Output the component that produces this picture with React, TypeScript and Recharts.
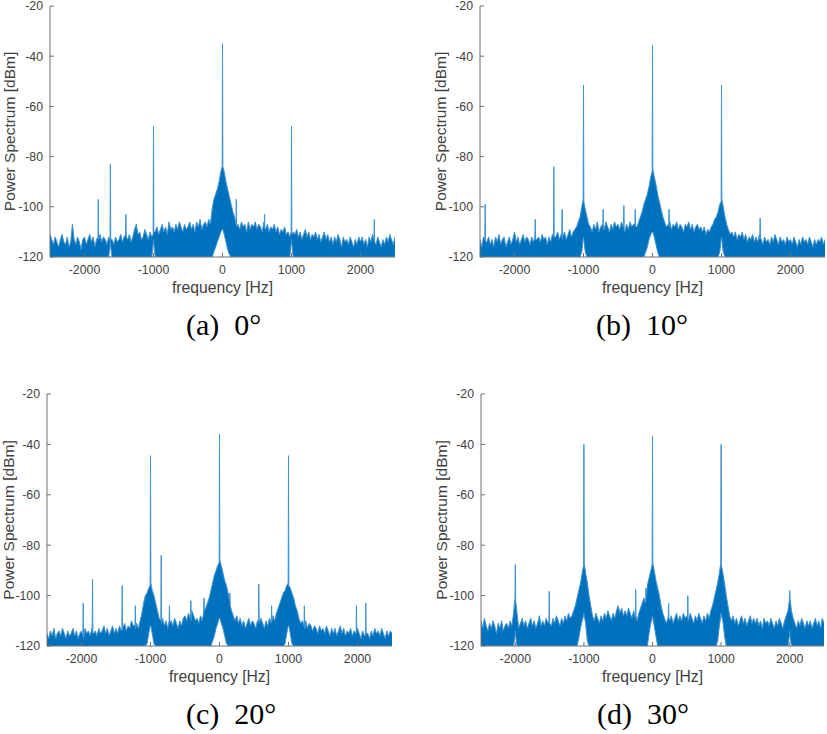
import React from "react";
import { AreaChart, Area, XAxis, YAxis } from "recharts";

const FREQ_START = -2500;
const FREQ_STEP = 25;
const FLOOR_DB = -120;

const xTicks = [-2000, -1000, 0, 1000, 2000];
const yTicks = [-120, -100, -80, -60, -40, -20];

const LINE = "#0072BD";
const EDGE = "#3f93d3";
const BOX = "#6f6f6f";
const TXT = "#404040";
const SANS = "'Liberation Sans', Arial, sans-serif";
const SERIF = "'Liberation Serif', 'Times New Roman', serif";

// noise envelope, 25 Hz grid from -2500 to 2500 (one row = 500 Hz)
// (a) 0°
const noiseA = [
  -111, -113, -115, -112, -114, -116, -113, -111, -114, -115, -112, -116, -114, -107, -113, -115, -112, -114, -117, -113,
  -112, -115, -113, -111, -114, -112, -116, -113, -115, -111, -114, -112, -113, -115, -112, -114, -113, -115, -112, -114,
  -113, -111, -114, -112, -110, -113, -111, -114, -112, -109, -107, -111, -110, -113, -112, -109, -111, -113, -110, -112,
  -112, -110, -108, -111, -109, -107, -110, -108, -111, -106, -109, -108, -110, -107, -109, -106, -108, -110, -107, -109,
  -108, -106, -109, -107, -110, -106, -108, -105, -109, -107, -106, -108, -105, -107, -101, -97, -95, -93, -90, -86,
  -85, -86, -90, -93, -96, -99, -102, -104, -108, -107, -109, -106, -108, -107, -110, -106, -109, -107, -108, -106,
  -109, -107, -108, -110, -106, -109, -107, -110, -108, -109, -107, -110, -108, -111, -109, -110, -108, -111, -110, -112,
  -112, -110, -111, -109, -112, -110, -113, -111, -109, -112, -110, -113, -111, -112, -110, -113, -111, -114, -112, -110,
  -113, -111, -114, -112, -115, -112, -114, -111, -113, -116, -112, -114, -113, -115, -112, -114, -116, -113, -115, -112,
  -114, -112, -115, -113, -116, -112, -114, -111, -113, -115, -112, -114, -116, -113, -115, -112, -114, -111, -113, -115,
  -112,
];
const peaksA: [number, number][] = [
  [-1805, -112], [-1800, -97], [-1795, -113],
  [-1630, -113], [-1625, -83], [-1620, -113],
  [-1405, -111], [-1400, -103], [-1395, -112],
  [-1005, -111], [-1000, -68], [-995, -110],
  [-5, -84], [0, -35], [5, -84],
  [195, -107], [200, -97], [205, -108],
  [605, -108], [610, -103], [615, -109],
  [995, -110], [1000, -68], [1005, -111],
  [2195, -113], [2200, -105], [2205, -114],
];
const hollowA: [number, number][] = [
  [-125, -118], [-100, -116], [-75, -114], [-50, -112], [-25, -110],
  [-5, -109], [0, -109], [5, -109], [25, -111], [50, -114], [75, -117], [100, -119],
  [-1630, -116], [-1625, -113], [-1620, -116],
  [-1005, -115], [-1000, -113], [-995, -115],
  [995, -115], [1000, -113], [1005, -115],
];

// (b) 10°
const noiseB = [
  -113, -116, -112, -111, -114, -112, -115, -113, -116, -112, -114, -111, -115, -113, -112, -116, -114, -112, -115, -113,
  -110, -114, -112, -115, -113, -111, -114, -112, -113, -115, -112, -114, -110, -113, -112, -114, -111, -113, -112, -115,
  -112, -114, -111, -113, -112, -110, -113, -111, -112, -110, -113, -111, -109, -112, -110, -109, -108, -106, -104, -100,
  -100, -101, -104, -107, -108, -110, -107, -109, -106, -110, -108, -107, -109, -106, -108, -110, -107, -109, -106, -108,
  -107, -109, -106, -108, -110, -107, -109, -106, -108, -107, -105, -108, -106, -104, -102, -99, -97, -95, -92, -88,
  -86, -88, -91, -95, -98, -101, -104, -106, -108, -107, -106, -109, -107, -108, -106, -109, -107, -108, -110, -107,
  -108, -106, -109, -107, -110, -108, -107, -109, -108, -110, -108, -111, -109, -110, -108, -107, -105, -104, -102, -99,
  -99, -100, -104, -107, -109, -111, -110, -112, -110, -113, -111, -112, -110, -113, -111, -114, -112, -113, -111, -114,
  -112, -114, -111, -113, -115, -112, -114, -113, -115, -112, -114, -111, -113, -115, -112, -114, -113, -115, -112, -114,
  -113, -115, -112, -114, -116, -113, -115, -112, -114, -113, -115, -112, -114, -116, -113, -115, -113, -114, -112, -115,
  -113,
];
const peaksB: [number, number][] = [
  [-2430, -113], [-2425, -99], [-2420, -114],
  [-1705, -112], [-1700, -105], [-1695, -113],
  [-1435, -112], [-1430, -84], [-1425, -112],
  [-1315, -112], [-1310, -101], [-1305, -113],
  [-1005, -97], [-1000, -51.5], [-995, -98],
  [-720, -108], [-715, -101], [-710, -109],
  [-420, -108], [-415, -99.5], [-410, -109],
  [-255, -107], [-250, -101], [-245, -108],
  [-5, -86], [0, -35.7], [5, -85],
  [235, -108], [240, -101], [245, -107],
  [995, -98], [1000, -51.5], [1005, -97],
  [1555, -113], [1560, -104.5], [1565, -112],
];
const hollowB: [number, number][] = [
  [-100, -118], [-75, -116], [-50, -113], [-25, -111],
  [-5, -110], [0, -110], [5, -110], [25, -112], [50, -115], [75, -118],
  [-1025, -118], [-1005, -113], [-1000, -112], [-995, -113], [-975, -118],
  [975, -118], [995, -113], [1000, -112], [1005, -113], [1025, -118],
];

// (c) 20°
const noiseC = [
  -115, -117, -114, -116, -113, -117, -115, -114, -116, -113, -115, -117, -114, -116, -115, -113, -116, -114, -117, -115,
  -114, -116, -113, -115, -114, -116, -113, -115, -114, -116, -113, -115, -114, -112, -115, -113, -116, -114, -112, -115,
  -113, -115, -112, -114, -113, -111, -114, -112, -113, -110, -112, -114, -111, -113, -110, -107, -103, -100, -99, -97,
  -95, -98, -100, -103, -106, -109, -111, -109, -112, -110, -113, -111, -110, -112, -109, -111, -113, -110, -112, -109,
  -108, -110, -107, -109, -106, -108, -110, -109, -111, -108, -110, -107, -105, -103, -101, -98, -95, -92, -90, -88,
  -87, -88, -91, -94, -96, -99, -103, -106, -108, -110, -108, -111, -109, -112, -110, -113, -111, -109, -112, -110,
  -111, -113, -110, -112, -109, -111, -113, -110, -112, -109, -111, -108, -110, -107, -105, -103, -101, -99, -98, -96,
  -95, -97, -99, -101, -104, -106, -109, -111, -110, -112, -110, -113, -111, -112, -114, -112, -113, -115, -112, -114,
  -113, -115, -112, -114, -116, -113, -115, -113, -116, -114, -112, -115, -113, -116, -114, -115, -113, -116, -114, -115,
  -113, -115, -117, -114, -116, -113, -115, -117, -114, -116, -113, -115, -114, -116, -113, -115, -117, -114, -116, -114,
  -115,
];
const peaksC: [number, number][] = [
  [-1980, -116], [-1975, -103], [-1970, -117],
  [-1845, -114], [-1840, -93.5], [-1835, -115],
  [-1415, -113], [-1410, -96], [-1405, -114],
  [-1225, -112], [-1220, -104], [-1215, -113],
  [-1005, -96], [-1000, -44.5], [-995, -95],
  [-850, -110], [-845, -84], [-840, -111],
  [-730, -110], [-725, -104], [-720, -111],
  [-420, -109], [-415, -102], [-410, -110],
  [-230, -107], [-225, -101], [-220, -106],
  [-5, -87], [0, -36], [5, -86],
  [145, -102], [150, -99], [155, -104],
  [565, -110], [570, -95.5], [575, -111],
  [750, -111], [755, -104], [760, -110],
  [995, -95], [1000, -44.5], [1005, -96],
  [1225, -112], [1230, -104], [1235, -113],
  [1980, -115], [1985, -104], [1990, -114],
  [2115, -116], [2120, -103], [2125, -115],
];
const hollowC: [number, number][] = [
  [-100, -118], [-75, -116], [-50, -113], [-25, -111],
  [-5, -109], [0, -109], [5, -109], [25, -111], [50, -113], [75, -116], [100, -119],
  [-1050, -119], [-1025, -115], [-1005, -112], [-1000, -112], [-995, -112], [-975, -115], [-950, -119],
  [950, -119], [975, -115], [995, -112], [1000, -112], [1005, -112], [1025, -115], [1050, -119],
];

// (d) 30°
const noiseD = [
  -110, -113, -109, -112, -114, -111, -113, -110, -112, -115, -111, -113, -110, -114, -112, -111, -113, -110, -112, -107,
  -100, -107, -113, -111, -109, -112, -110, -113, -111, -109, -112, -110, -113, -111, -108, -112, -110, -112, -109, -111,
  -110, -112, -109, -111, -108, -110, -112, -109, -111, -108, -110, -107, -109, -108, -106, -104, -101, -98, -95, -91,
  -88, -91, -95, -100, -104, -108, -110, -107, -109, -111, -108, -110, -107, -109, -106, -108, -110, -107, -109, -106,
  -104, -107, -105, -108, -106, -108, -105, -107, -109, -106, -108, -110, -107, -105, -103, -101, -99, -96, -93, -90,
  -86, -90, -94, -97, -100, -104, -107, -109, -111, -109, -110, -108, -111, -109, -107, -110, -108, -110, -107, -109,
  -108, -110, -107, -109, -111, -108, -110, -107, -109, -111, -108, -110, -107, -109, -106, -104, -101, -98, -95, -91,
  -88, -91, -95, -100, -104, -108, -110, -108, -111, -109, -112, -110, -108, -111, -109, -112, -110, -108, -111, -109,
  -111, -109, -112, -110, -113, -109, -111, -110, -112, -109, -111, -113, -110, -112, -109, -111, -113, -110, -108, -106,
  -100, -106, -109, -111, -113, -110, -112, -109, -111, -113, -110, -112, -110, -113, -111, -109, -112, -110, -113, -109,
  -111,
];
const peaksD: [number, number][] = [
  [-2005, -101], [-2000, -87.7], [-1995, -102],
  [-1510, -110], [-1505, -98.3], [-1500, -111],
  [-1005, -88], [-1000, -40], [-995, -87],
  [-250, -109], [-245, -97.5], [-240, -108],
  [-100, -103], [-95, -97], [-90, -101],
  [-5, -88], [0, -36.7], [5, -87],
  [230, -108], [235, -103], [240, -109],
  [510, -109], [515, -100], [520, -110],
  [995, -87], [1000, -40], [1005, -88],
  [1995, -102], [2000, -98], [2005, -101],
];
const hollowD: [number, number][] = [
  [-50, -115], [-25, -111], [-5, -109], [0, -108], [5, -109], [25, -112], [50, -116],
  [-1075, -117], [-1050, -113], [-1025, -110], [-1005, -108], [-1000, -107], [-995, -108], [-975, -111], [-950, -118],
  [950, -118], [975, -112], [995, -108], [1000, -107], [1005, -108], [1025, -110], [1050, -116],
  [-2005, -116], [-2000, -114], [-1995, -116],
  [1995, -116], [2000, -114], [2005, -116],
];

function buildSpectrum(noise: number[], peaks: [number, number][], hollow: [number, number][]) {
  const pts = new Map<number, { f: number; lo: number; hi: number }>();
  noise.forEach((hi, i) => {
    const f = FREQ_START + i * FREQ_STEP;
    pts.set(f, { f, lo: FLOOR_DB, hi });
  });
  peaks.forEach(([f, hi]) => {
    const p = pts.get(f);
    if (p) p.hi = hi;
    else pts.set(f, { f, lo: FLOOR_DB, hi });
  });
  hollow.forEach(([f, lo]) => {
    const p = pts.get(f);
    if (p) p.lo = lo;
  });
  return [...pts.values()].sort((a, b) => a.f - b.f).map((p) => ({ f: p.f, db: [p.lo, p.hi] }));
}

const BottomTick = (props: any) => {
  const { x, y, payload } = props;
  return (
    <g>
      <line x1={x} x2={x} y1={y} y2={y - 4} stroke={BOX} />
      <text x={x} y={y + 17} textAnchor="middle" fontSize={12.3} fontFamily={SANS} fill={TXT}>
        {payload.value}
      </text>
    </g>
  );
};

const TopTick = (props: any) => {
  const { x, y } = props;
  return <line x1={x} x2={x} y1={y} y2={y + 4} stroke={BOX} />;
};

const LeftTick = (props: any) => {
  const { x, y, payload } = props;
  return (
    <g>
      <line x1={x} x2={x + 4} y1={y} y2={y} stroke={BOX} />
      <text x={x - 7} y={y + 4.4} textAnchor="end" fontSize={12.3} fontFamily={SANS} fill={TXT}>
        {payload.value}
      </text>
    </g>
  );
};

const RightTick = (props: any) => {
  const { x, y } = props;
  return <line x1={x} x2={x - 4} y1={y} y2={y} stroke={BOX} />;
};

interface PanelProps {
  data: { f: number; db: number[] }[];
  plotLeft: number;
  plotTop: number;
  plotWidth: number;
  plotHeight: number;
  labelX: number;
}

function SpectrumPanel({ data, plotLeft, plotTop, plotWidth, plotHeight, labelX }: PanelProps) {
  const width = plotWidth + 52;
  const height = plotHeight + 49;
  const xLabel = () => (
    <text x={50 + plotWidth / 2} y={6 + plotHeight + 36} textAnchor="middle" fontSize={15.7} fontFamily={SANS} fill={TXT}>
      frequency [Hz]
    </text>
  );
  const yLabel = () => {
    const cx = labelX - (plotLeft - 50);
    const cy = 6 + plotHeight / 2;
    return (
      <text x={cx} y={cy} transform={`rotate(-90 ${cx} ${cy})`} textAnchor="middle" fontSize={15.5} fontFamily={SANS} fill={TXT}>
        Power Spectrum [dBm]
      </text>
    );
  };
  return (
    <div style={{ position: "absolute", left: plotLeft - 50, top: plotTop - 6 }}>
      <AreaChart width={width} height={height} data={data} margin={{ top: 6, right: 2, bottom: 0, left: 0 }}>
        <XAxis
          xAxisId="b"
          dataKey="f"
          type="number"
          domain={[-2500, 2500]}
          ticks={xTicks}
          interval={0}
          allowDataOverflow
          height={43}
          tickSize={0}
          tickMargin={0}
          tickLine={false}
          stroke={BOX}
          tick={(p: any) => <BottomTick {...p} />}
          label={xLabel}
        />
        <XAxis
          xAxisId="t"
          orientation="top"
          dataKey="f"
          type="number"
          domain={[-2500, 2500]}
          ticks={xTicks}
          interval={0}
          allowDataOverflow
          height={0}
          tickSize={0}
          tickMargin={0}
          tickLine={false}
          stroke={BOX}
          tick={(p: any) => <TopTick {...p} />}
        />
        <YAxis
          yAxisId="l"
          type="number"
          domain={[-120, -20]}
          ticks={yTicks}
          interval={0}
          allowDataOverflow
          width={50}
          tickSize={0}
          tickMargin={0}
          tickLine={false}
          stroke={BOX}
          tick={(p: any) => <LeftTick {...p} />}
          label={yLabel}
        />
        <YAxis
          yAxisId="r"
          orientation="right"
          type="number"
          domain={[-120, -20]}
          ticks={yTicks}
          interval={0}
          allowDataOverflow
          width={0}
          tickSize={0}
          tickMargin={0}
          tickLine={false}
          stroke={BOX}
          tick={(p: any) => <RightTick {...p} />}
        />
        <Area
          xAxisId="b"
          yAxisId="l"
          dataKey="db"
          type="linear"
          stroke={EDGE}
          strokeWidth={1}
          fill={LINE}
          fillOpacity={1}
          dot={false}
          activeDot={false}
          isAnimationActive={false}
        />
      </AreaChart>
    </div>
  );
}

const captions = [
  { text: "(a)\u00a0\u00a00°", x: 186, y: 335 },
  { text: "(b)\u00a0\u00a010°", x: 596, y: 335 },
  { text: "(c)\u00a0\u00a020°", x: 186, y: 724 },
  { text: "(d)\u00a0\u00a030°", x: 597, y: 724 },
];

export default function App() {
  const dataA = buildSpectrum(noiseA, peaksA, hollowA);
  const dataB = buildSpectrum(noiseB, peaksB, hollowB);
  const dataC = buildSpectrum(noiseC, peaksC, hollowC);
  const dataD = buildSpectrum(noiseD, peaksD, hollowD);
  return (
    <div style={{ position: "absolute", left: 0, top: 0, width: 827, height: 734, overflow: "hidden", background: "#fff" }}>
      <SpectrumPanel data={dataA} plotLeft={50} plotTop={6} plotWidth={345} plotHeight={251} labelX={15} />
      <SpectrumPanel data={dataB} plotLeft={480} plotTop={6} plotWidth={345} plotHeight={251} labelX={446} />
      <SpectrumPanel data={dataC} plotLeft={47} plotTop={394} plotWidth={345} plotHeight={252} labelX={14} />
      <SpectrumPanel data={dataD} plotLeft={481} plotTop={394} plotWidth={343} plotHeight={252} labelX={447} />
      <svg width={827} height={734} style={{ position: "absolute", left: 0, top: 0, pointerEvents: "none" }}>
        {captions.map((c) => (
          <text key={c.text} x={c.x} y={c.y} fontSize={30} fontFamily={SERIF} fill="#000">
            {c.text}
          </text>
        ))}
      </svg>
    </div>
  );
}
